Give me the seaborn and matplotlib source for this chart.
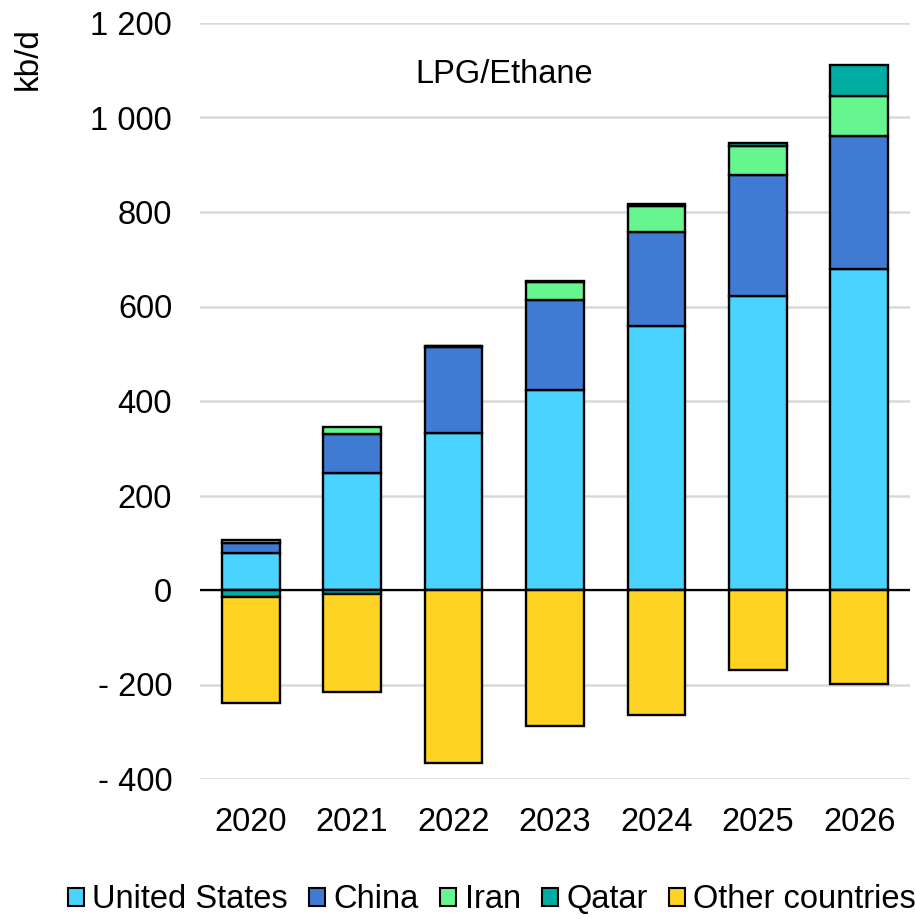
import numpy as np
import matplotlib
matplotlib.use("Agg")
import matplotlib.pyplot as plt
from matplotlib.ticker import FuncFormatter
from matplotlib.patches import Patch
import seaborn as sns

years = ["2020", "2021", "2022", "2023", "2024", "2025", "2026"]
series = ["United States", "China", "Iran", "Qatar", "Other countries"]

united_states = [79, 247, 332, 424, 559, 623, 680]
china = [20, 84, 182, 190, 198, 256, 280]
iran = [6, 15, 2, 37, 55, 61, 85]
qatar = [-14, -8, 0, 4, 5, 5, 67]
other = [-226, -208, -367, -287, -265, -169, -198]

colors = ["#4AD3FF", "#3F7BD3", "#66F58F", "#00ADA2", "#FFD321"]

sns.set_theme(style="white")
plt.rcParams["font.family"] = ["Liberation Sans", "DejaVu Sans"]
plt.rcParams["text.color"] = "black"

fig = plt.figure(figsize=(9.15, 9.19), dpi=100)
ax = fig.add_axes([200 / 915, 1 - 779 / 919, 710 / 915, 756 / 919])

x = np.arange(len(years))
pos_bottom = np.zeros(len(years))
neg_bottom = np.zeros(len(years))
for vals, col in zip([united_states, china, iran, qatar, other], colors):
    v = np.array(vals, dtype=float)
    b = np.where(v >= 0, pos_bottom, neg_bottom)
    ax.bar(x, v, bottom=b, width=0.57, color=col, edgecolor="black",
           linewidth=1.7, zorder=3)
    pos_bottom += np.where(v >= 0, v, 0)
    neg_bottom += np.where(v < 0, v, 0)

ax.set_xlim(-0.5, 6.5)
ax.set_ylim(-400, 1200)
ax.set_yticks(np.arange(-400, 1201, 200))
ax.yaxis.set_major_formatter(FuncFormatter(
    lambda v, p: ("- " if v < 0 else "") + f"{abs(int(v)):,}".replace(",", " ")))
ax.set_xticks(x)
ax.set_xticklabels(years)
ax.tick_params(axis="both", labelsize=23.5, length=0, colors="black")
ax.tick_params(axis="x", pad=20)
ax.tick_params(axis="y", pad=20)
ax.yaxis.grid(True, color="#D9D9D9", linewidth=1.8, zorder=0)
ax.xaxis.grid(False)
ax.axhline(0, color="black", linewidth=1.6, zorder=4)
sns.despine(ax=ax, left=True, bottom=True)

ax.text(2.5, 1090, "LPG/Ethane", ha="center", va="center", fontsize=23.5, color="black")
fig.text(28 / 915, 1 - 59 / 919, "kb/d", rotation=90, ha="center",
         va="center", fontsize=24, color="black")

handles = [Patch(facecolor=c, edgecolor="black", linewidth=1.5) for c in colors]
leg = fig.legend(handles, series, loc="center", bbox_to_anchor=(492 / 915, 1 - 900 / 919),
                 ncol=5, frameon=False, handlelength=0.5, handleheight=0.5,
                 handletextpad=0.25, columnspacing=0.65,
                 prop={"family": ["Liberation Sans Narrow", "Liberation Sans"], "size": 23.5})
for t in leg.get_texts():
    t.set_color("black")

fig.savefig("out.png", dpi=100)
